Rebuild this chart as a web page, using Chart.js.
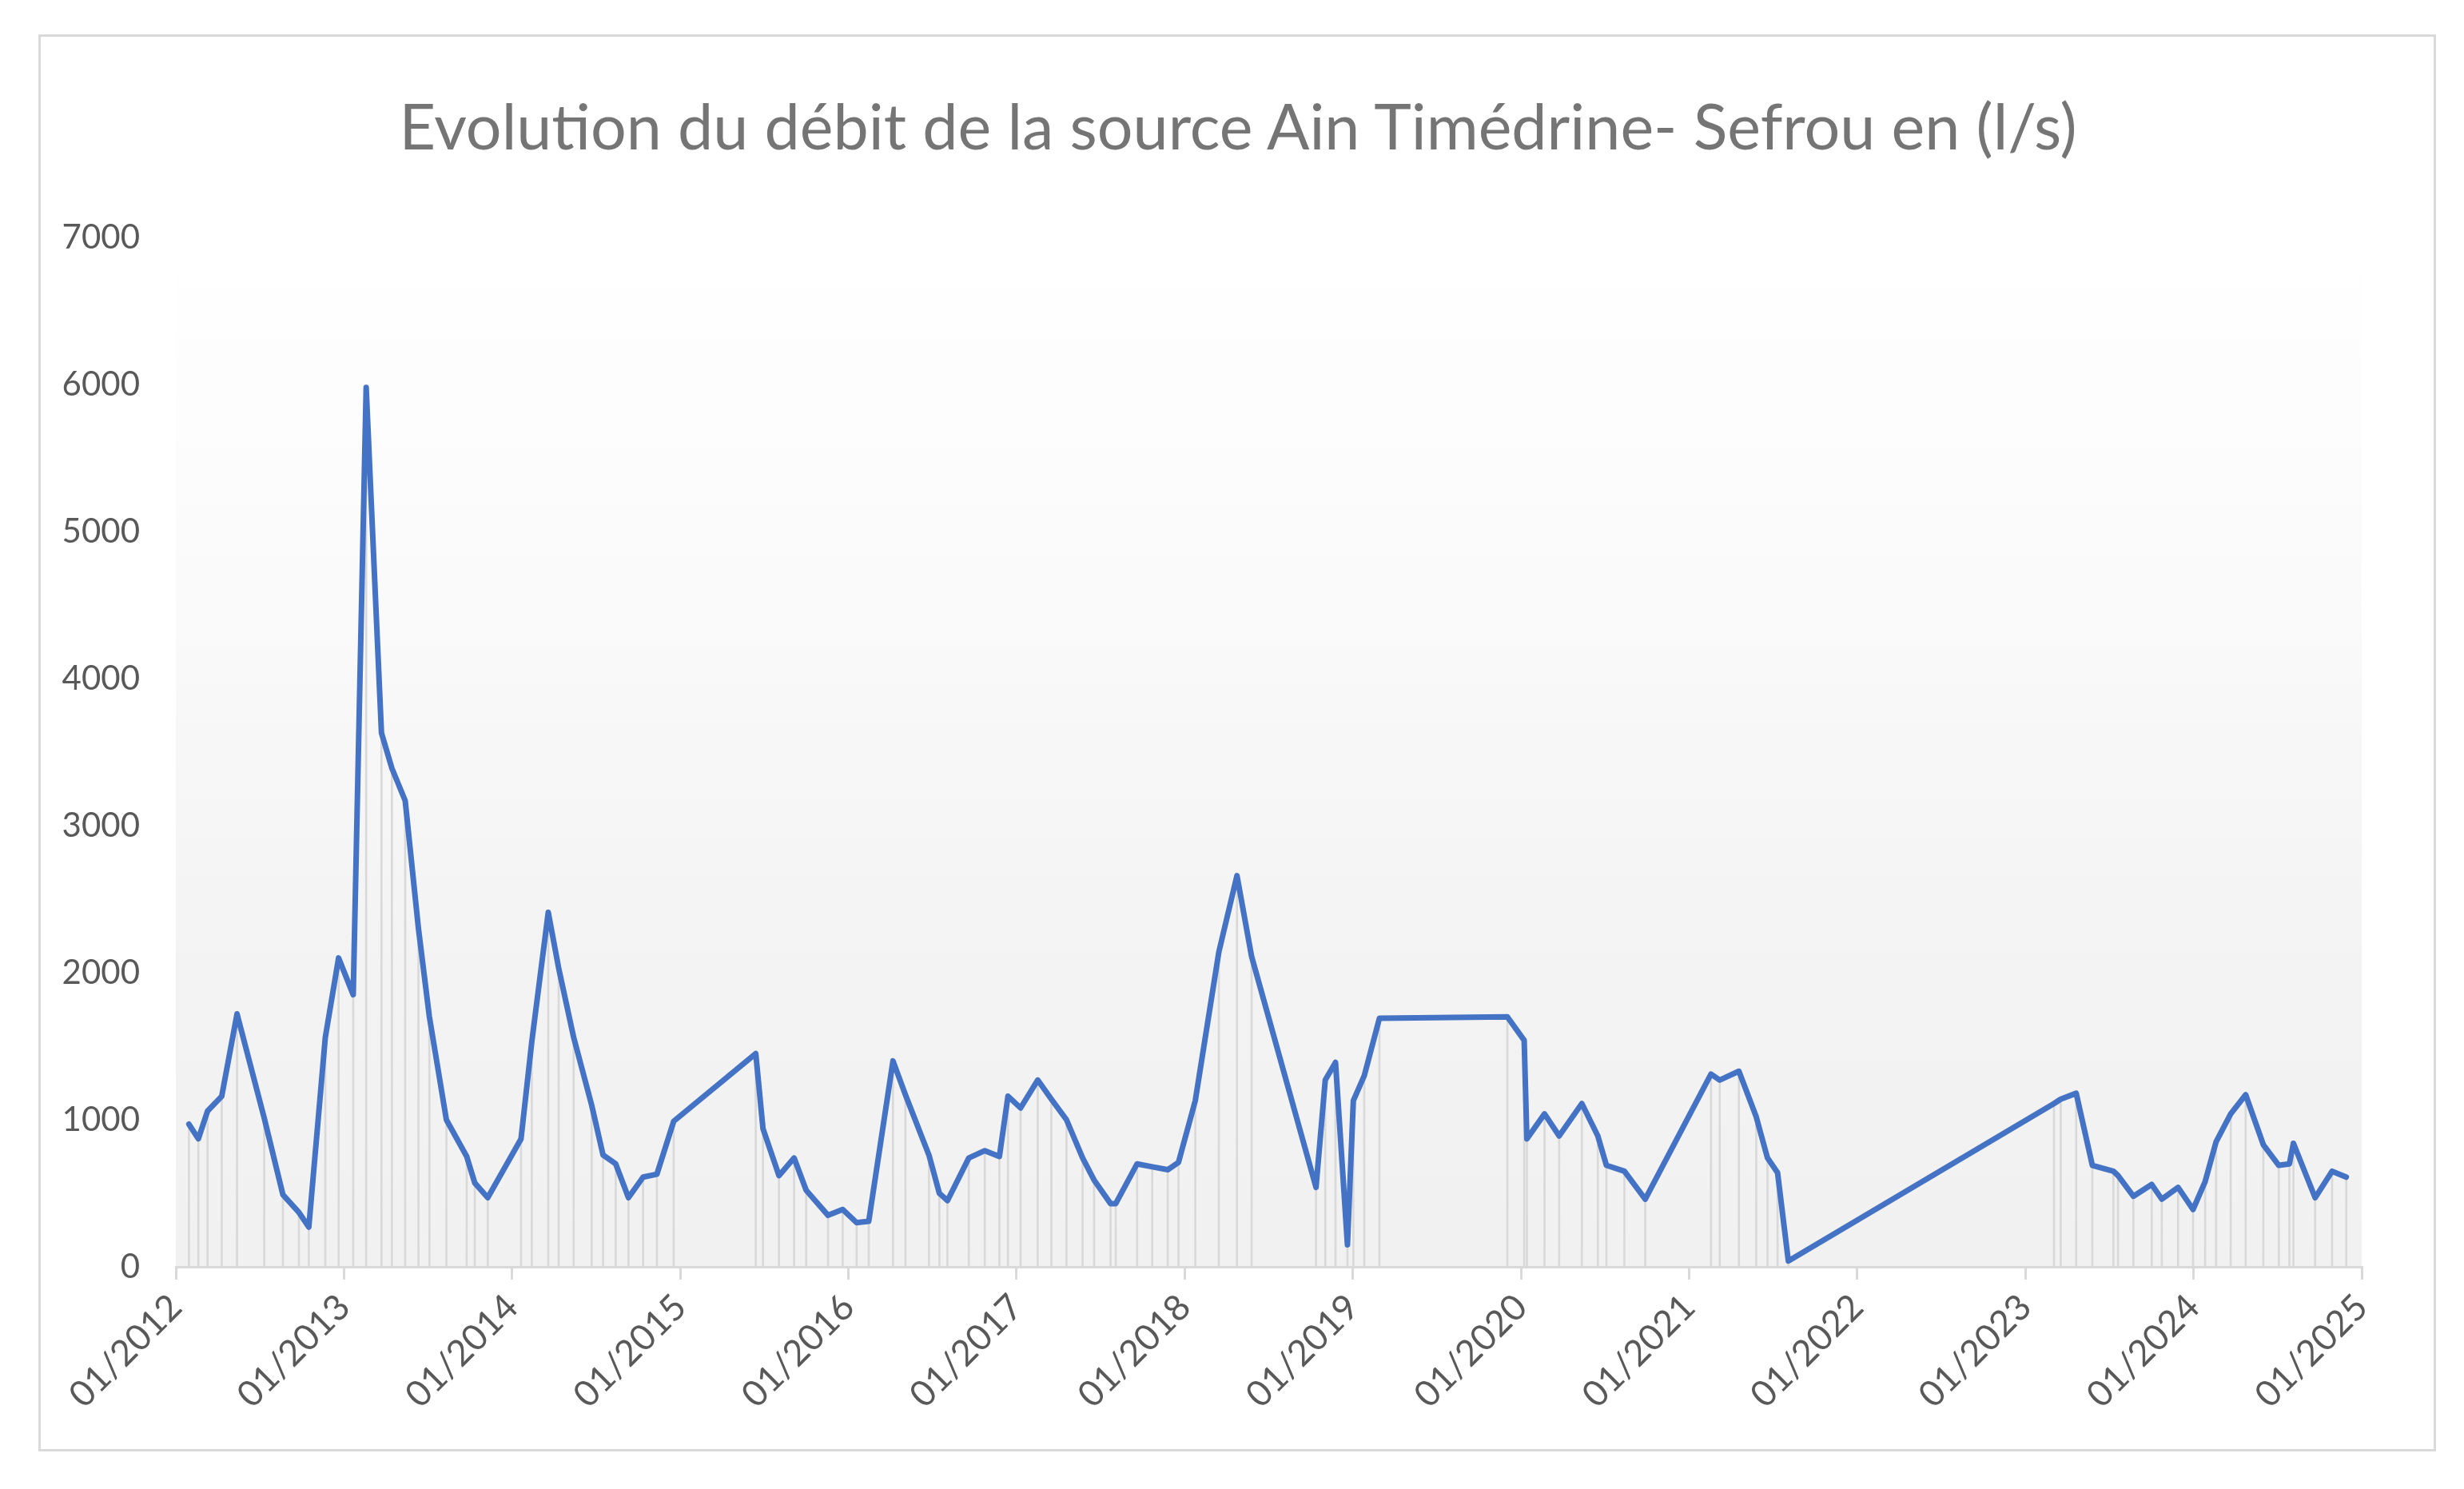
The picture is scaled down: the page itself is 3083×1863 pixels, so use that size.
<!DOCTYPE html>
<html>
<head>
<meta charset="utf-8">
<script src="https://cdn.jsdelivr.net/npm/chart.js@4/dist/chart.umd.min.js"></script>
<style>
  body { margin: 0; background: #fff; }
  #wrap { position: relative; width: 3083px; height: 1863px; }
  #frame { position: absolute; left: 48px; top: 43px; width: 2994px; height: 1767px; border: 3px solid #d9d9d9; }
  #title { position: absolute; left: 0; top: 110px; width: 3098px; text-align: center; font-family: Lato, sans-serif; font-size: 79px; line-height: 1.2; color: #757575; white-space: nowrap; }
  canvas { position: absolute; left: 0; top: 0; }
</style>
</head>
<body>
<div id="wrap">
  <div id="frame"></div>
  <div id="title">Evolution du débit de la source Ain Timédrine- Sefrou en (l/s)</div>
  <canvas id="myChart" width="3083" height="1863"></canvas>
</div>
<script>
// dates of the measures, in decimal years
const dates = [
  2012.078, 2012.134, 2012.189, 2012.273, 2012.364, 2012.526, 2012.637, 2012.732, 2012.791, 2012.889,
  2012.968, 2013.055, 2013.132, 2013.223, 2013.285, 2013.364, 2013.443, 2013.508, 2013.609, 2013.730,
  2013.778, 2013.855, 2014.053, 2014.117, 2014.215, 2014.277, 2014.366, 2014.473, 2014.541, 2014.616,
  2014.692, 2014.779, 2014.861, 2014.961, 2015.449, 2015.492, 2015.587, 2015.677, 2015.749, 2015.879,
  2015.966, 2016.049, 2016.121, 2016.265, 2016.339, 2016.479, 2016.541, 2016.589, 2016.716, 2016.811,
  2016.898, 2016.949, 2017.024, 2017.126, 2017.207, 2017.297, 2017.393, 2017.461, 2017.559, 2017.590,
  2017.717, 2017.807, 2017.899, 2017.963, 2018.063, 2018.203, 2018.311, 2018.398, 2018.781, 2018.836,
  2018.897, 2018.968, 2019.003, 2019.068, 2019.158, 2019.919, 2020.019, 2020.035, 2020.140, 2020.227,
  2020.362, 2020.457, 2020.508, 2020.615, 2020.739, 2021.130, 2021.182, 2021.296, 2021.399, 2021.466,
  2021.526, 2021.590, 2023.170, 2023.210, 2023.302, 2023.398, 2023.523, 2023.551, 2023.642, 2023.751,
  2023.811, 2023.908, 2023.997, 2024.069, 2024.134, 2024.221, 2024.310, 2024.415, 2024.507, 2024.570,
  2024.594, 2024.723, 2024.824, 2024.908
];

// debit in l/s
const debit = [
  970, 870, 1060, 1160, 1720, 1010, 490, 370, 270, 1560,
  2100, 1850, 5980, 3630, 3390, 3170, 2300, 1700, 1000, 750,
  570, 470, 870, 1530, 2410, 2030, 1560, 1100, 760, 700,
  470, 610, 630, 990, 1450, 940, 620, 740, 520, 350,
  390, 300, 310, 1400, 1170, 760, 500, 450, 740, 790,
  750, 1160, 1080, 1270, 1140, 1000, 740, 590, 430, 430,
  700, 680, 660, 710, 1130, 2140, 2660, 2110, 540, 1270,
  1390, 150, 1130, 1300, 1690, 1700, 1540, 870, 1040, 890,
  1110, 890, 690, 650, 460, 1310, 1270, 1330, 1020, 740,
  640, 40, 1110, 1140, 1180, 690, 650, 620, 480, 560,
  460, 540, 390, 580, 850, 1040, 1170, 830, 690, 700,
  840, 470, 650, 610
];

const years = [2012, 2013, 2014, 2015, 2016, 2017, 2018, 2019, 2020, 2021, 2022, 2023, 2024, 2025];
const yTicks = [0, 1000, 2000, 3000, 4000, 5000, 6000, 7000];

const points = dates.map((d, i) => ({ x: d, y: debit[i] }));

const plotBackground = {
  id: 'plotBackground',
  beforeDraw: chart => {
    const { ctx, chartArea } = chart;
    const g = ctx.createLinearGradient(0, chartArea.top, 0, chartArea.bottom);
    g.addColorStop(0, '#ffffff');
    g.addColorStop(0.35, '#fafafa');
    g.addColorStop(0.7, '#f3f3f3');
    g.addColorStop(1, '#f1f1f1');
    ctx.save();
    ctx.fillStyle = g;
    ctx.fillRect(chartArea.left, chartArea.top, chartArea.right - chartArea.left, chartArea.bottom - chartArea.top);
    ctx.restore();
  }
};

const ctx = document.getElementById('myChart').getContext('2d');
const myChart = new Chart(ctx, {
  type: 'line',
  data: {
    datasets: [{
      type: 'line',
      label: 'Débit (l/s)',
      data: points,
      borderColor: '#4472c4',
      borderWidth: 7,
      pointRadius: 0,
      tension: 0,
      borderJoinStyle: 'round',
      borderCapStyle: 'round',
      order: 0
    }, {
      type: 'bar',
      label: 'lignes',
      data: points,
      backgroundColor: '#d9d9d9',
      barThickness: 2,
      grouped: false,
      order: 1
    }]
  },
  options: {
    responsive: false,
    animation: false,
    devicePixelRatio: 1,
    layout: { padding: { left: 0, right: 128, top: 297, bottom: 58 } },
    plugins: {
      legend: { display: false },
      tooltip: { enabled: false },
      title: { display: false }
    },
    scales: {
      x: {
        type: 'linear',
        min: 2012,
        max: 2025,
        offset: false,
        afterBuildTicks: axis => { axis.ticks = years.map(v => ({ value: v })); },
        afterFit: axis => { axis.height = 220; },
        ticks: {
          callback: v => '01/' + v,
          color: '#595959',
          font: { family: 'Lato', size: 45 },
          minRotation: 45,
          maxRotation: 45,
          padding: 8
        },
        grid: { display: true, drawOnChartArea: false, offset: false, tickLength: 16, color: '#d9d9d9', lineWidth: 3 },
        border: { display: true, color: '#d9d9d9', width: 3 }
      },
      y: {
        min: 0,
        max: 7000,
        afterBuildTicks: axis => { axis.ticks = yTicks.map(v => ({ value: v })); },
        afterFit: axis => { axis.width = 220; },
        ticks: {
          callback: v => String(v),
          color: '#595959',
          font: { family: 'Lato', size: 42 },
          padding: 37
        },
        grid: { display: false },
        border: { display: false }
      }
    }
  },
  plugins: [plotBackground]
});
</script>
</body>
</html>
